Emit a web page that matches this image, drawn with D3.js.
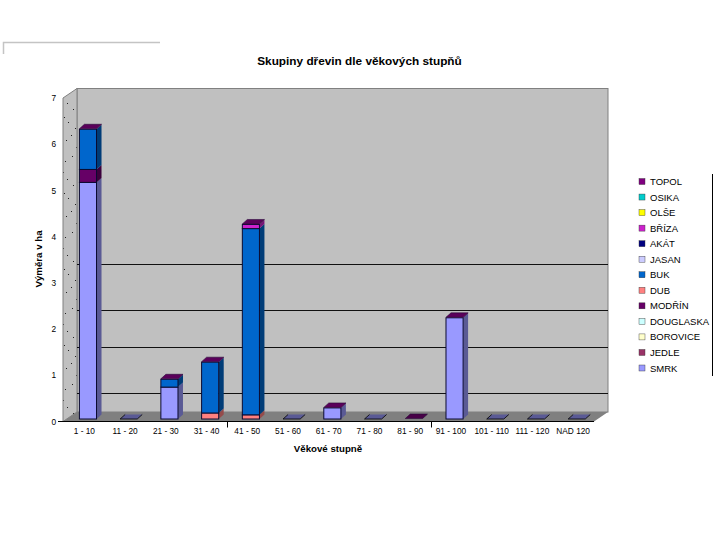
<!DOCTYPE html>
<html>
<head>
<meta charset="utf-8">
<title>Skupiny dřevin</title>
<script src="https://cdn.jsdelivr.net/npm/d3@7"></script>
<style>
    body { margin: 0; background: #fff; }
    svg { display: block; }
    text { font-family: "Liberation Sans", Arial, sans-serif; fill: #000; }
    .tick-label text { font-size: 8.3px; }
    .legend-label { font-size: 9.5px; }
    .title { font-size: 11.8px; font-weight: bold; }
    .axis-title { font-size: 9.7px; font-weight: bold; }
</style>
</head>
<body>
<div id="chart"></div>
<script>
// data (ha per age class)
var categories = ["1 - 10", "11 - 20", "21 - 30", "31 - 40", "41 - 50", "51 - 60", "61 - 70",
    "71 - 80", "81 - 90", "91 - 100", "101 - 110", "111 - 120", "NAD 120"];

// stacking order, bottom to top
var speciesNames = ["SMRK", "JEDLE", "BOROVICE", "DOUGLASKA", "MODŘÍN", "DUB", "BUK",
    "JASAN", "AKÁT", "BŘÍZA", "OLŠE", "OSIKA", "TOPOL"];
var speciesColors = ["#9999ff", "#993366", "#ffffcc", "#ccffff", "#660066", "#ff8080", "#0066cc",
    "#ccccff", "#000080", "#cc22cc", "#ffff00", "#00cccc", "#800080"];

var smrk =      [5.12, 0, 0.69, 0, 0, 0, 0.24, 0, 0, 2.19, 0, 0, 0];
var jedle =     [0, 0, 0, 0, 0, 0, 0, 0, 0, 0, 0, 0, 0];
var borovice =  [0, 0, 0, 0, 0, 0, 0, 0, 0, 0, 0, 0, 0];
var douglaska = [0, 0, 0, 0, 0, 0, 0, 0, 0, 0, 0, 0, 0];
var modrin =    [0.28, 0, 0, 0, 0, 0, 0, 0, 0.01, 0, 0, 0, 0];
var dub =       [0, 0, 0, 0.13, 0.09, 0, 0, 0, 0, 0, 0, 0, 0];
var buk =       [0.87, 0, 0.17, 1.10, 4.03, 0, 0, 0, 0, 0, 0, 0, 0];
var jasan =     [0, 0, 0, 0, 0, 0, 0, 0, 0, 0, 0, 0, 0];
var akat =      [0, 0, 0, 0, 0, 0, 0, 0, 0, 0, 0, 0, 0];
var briza =     [0, 0, 0, 0, 0.09, 0, 0, 0, 0, 0, 0, 0, 0];
var olse =      [0, 0, 0, 0, 0, 0, 0, 0, 0, 0, 0, 0, 0];
var osika =     [0, 0, 0, 0, 0, 0, 0, 0, 0, 0, 0, 0, 0];
var topol =     [0.01, 0, 0.01, 0.01, 0.01, 0, 0.01, 0, 0, 0.01, 0, 0, 0];

var seriesValues = [smrk, jedle, borovice, douglaska, modrin, dub, buk, jasan, akat, briza, olse, osika, topol];
var yTicks = [0, 1, 2, 3, 4, 5, 6, 7];
var wallLines = [0.41, 1.41, 2.21, 3.2];
// the original only marks these two category boundaries
var markedBoundaries = ["41 - 50", "91 - 100"];

var width = 720, height = 540;
var depthX = 14, depthY = 9.5;     // wall depth
var barDX = 5, barDY = 4.5;        // bar depth
var barShift = 3.6, baseLift = 2.5;

var svg = d3.select("#chart").append("svg")
    .attr("width", width)
    .attr("height", height);

var x = d3.scaleBand()
    .domain(categories)
    .range([64, 593.5])
    .paddingInner(0.58)
    .paddingOuter(0.29);

var y = d3.scaleLinear()
    .domain([0, 7])
    .range([421.5, 98]);

var xL = 63, xR = 594;

// sparse specks for the side wall
var defs = svg.append("defs");
var speck = defs.append("pattern")
    .attr("id", "speck")
    .attr("patternUnits", "userSpaceOnUse")
    .attr("width", 14)
    .attr("height", 76);
speck.append("rect").attr("width", 14).attr("height", 76).attr("fill", "#c0c0c0");
var speckX = [2, 9, 7, 11, 3, 8, 12, 5, 1, 10, 6];
var speckY = [4, 9, 20, 27, 33, 41, 46, 52, 59, 64, 71];
speck.selectAll("rect.dot")
    .data(speckX)
    .enter().append("rect")
    .attr("class", "dot")
    .attr("x", function(d) { return d; })
    .attr("y", function(d, i) { return speckY[i]; })
    .attr("width", 1)
    .attr("height", 1)
    .attr("fill", "#222");

// top left frame fragment
svg.append("path")
    .attr("d", "M3.5,54V42.5H160")
    .attr("fill", "none")
    .attr("stroke", "#c4c4c4")
    .attr("stroke-width", 1.5);

// walls and floor
svg.append("rect")
    .attr("x", xL + depthX)
    .attr("y", y(7) - depthY)
    .attr("width", xR - xL)
    .attr("height", y(0) - y(7))
    .attr("fill", "#c0c0c0")
    .attr("stroke", "#808080");

svg.append("polygon")
    .attr("points", [[xL, y(7)], [xL + depthX, y(7) - depthY], [xL + depthX, y(0) - depthY], [xL, y(0)]].join(" "))
    .attr("fill", "url(#speck)")
    .attr("stroke", "#808080");

svg.append("polygon")
    .attr("points", [[xL, y(0)], [xL + depthX, y(0) - depthY], [xR + depthX, y(0) - depthY], [xR, y(0)]].join(" "))
    .attr("fill", "#808080");

svg.selectAll(".wall-line")
    .data(wallLines)
    .enter().append("line")
    .attr("class", "wall-line")
    .attr("x1", xL + depthX)
    .attr("x2", xR + depthX)
    .attr("y1", function(d) { return Math.round(y(d) - depthY) + 0.5; })
    .attr("y2", function(d) { return Math.round(y(d) - depthY) + 0.5; })
    .attr("stroke", "#111");

// axes
var yAxis = d3.axisLeft(y).tickValues(yTicks).tickSize(0).tickPadding(7).tickFormat(d3.format("d"));
svg.append("g")
    .attr("class", "tick-label")
    .attr("transform", "translate(" + xL + ",0)")
    .call(yAxis)
    .call(function(g) { g.select(".domain").remove(); });

var xAxis = d3.axisBottom(x).tickSize(0).tickPadding(7);
svg.append("g")
    .attr("class", "tick-label")
    .attr("transform", "translate(0," + y(0) + ")")
    .call(xAxis)
    .call(function(g) { g.select(".domain").remove(); });

svg.append("line")
    .attr("x1", xL - 5)
    .attr("x2", xR)
    .attr("y1", y(0))
    .attr("y2", y(0))
    .attr("stroke", "#000");

svg.selectAll(".boundary")
    .data(markedBoundaries)
    .enter().append("line")
    .attr("class", "boundary")
    .attr("x1", function(d) { return Math.round(x(d) - x.step() * 0.29) + 0.5; })
    .attr("x2", function(d) { return Math.round(x(d) - x.step() * 0.29) + 0.5; })
    .attr("y1", y(0))
    .attr("y2", y(0) + 6)
    .attr("stroke", "#000");

// bars
var bars = svg.append("g").attr("class", "bars");

function shade(color) {
    return d3.rgb(color).darker(1.5).formatHex();
}

categories.forEach(function(cat, c) {
    var x0 = x(cat) + barShift;
    var x1 = x0 + x.bandwidth();
    var running = 0;
    var topColor = shade(speciesColors[0]);

    seriesValues.forEach(function(values, s) {
        var v = values[c];
        if (v === 0) return;
        var yA = y(running) - baseLift;
        var yB = y(running + v) - baseLift;
        var col = speciesColors[s];
        running += v;
        topColor = d3.rgb(col).darker(1).formatHex();

        bars.append("polygon")
            .attr("points", [[x1, yA], [x1 + barDX, yA - barDY], [x1 + barDX, yB - barDY], [x1, yB]].join(" "))
            .attr("fill", shade(col));

        if (yA - yB >= 1) {
            bars.append("rect")
                .attr("x", x0)
                .attr("y", yB)
                .attr("width", x1 - x0)
                .attr("height", yA - yB)
                .attr("fill", col)
                .attr("stroke", "#0a0a30");
        }
    });

    var yTop = y(running) - baseLift;
    bars.append("polygon")
        .attr("points", [[x0, yTop], [x0 + barDX, yTop - barDY], [x1 + barDX, yTop - barDY], [x1, yTop]].join(" "))
        .attr("fill", topColor)
        .attr("stroke", running === 0 ? "none" : "#2a0a3a")
        .attr("stroke-width", 0.6);

    if (running === 0) {
        bars.append("path")
            .attr("d", "M" + (x1 + barDX) + "," + (yTop - barDY) + "L" + x1 + "," + yTop + "H" + x0 + "L" + (x0 + barDX) + "," + (yTop - barDY))
            .attr("fill", "none")
            .attr("stroke", "#000")
            .attr("stroke-width", 0.8);
    }
});

// texts
svg.append("text")
    .attr("class", "title")
    .attr("x", 359.5)
    .attr("y", 65)
    .attr("text-anchor", "middle")
    .text("Skupiny dřevin dle věkových stupňů");

svg.append("text")
    .attr("class", "axis-title")
    .attr("x", 328)
    .attr("y", 452)
    .attr("text-anchor", "middle")
    .text("Věkové stupně");

svg.append("text")
    .attr("class", "axis-title")
    .attr("transform", "translate(42,259) rotate(-90)")
    .attr("text-anchor", "middle")
    .text("Výměra v ha");

// legend, top entry is the last series
var legendY = d3.scalePoint()
    .domain(speciesNames.slice().reverse())
    .range([181.5, 368]);

var legend = svg.append("g").attr("class", "legend");

legend.selectAll("rect")
    .data(speciesNames)
    .enter().append("rect")
    .attr("x", 639)
    .attr("y", function(d) { return legendY(d) - 3; })
    .attr("width", 6)
    .attr("height", 6)
    .attr("fill", function(d, i) { return speciesColors[i]; })
    .attr("stroke", "#333")
    .attr("stroke-width", 0.4);

legend.selectAll("text")
    .data(speciesNames)
    .enter().append("text")
    .attr("class", "legend-label")
    .attr("x", 650)
    .attr("y", function(d) { return legendY(d) + 3.5; })
    .text(function(d) { return d; });

svg.append("line")
    .attr("x1", 712.5)
    .attr("x2", 712.5)
    .attr("y1", 174)
    .attr("y2", 376)
    .attr("stroke", "#000");
</script>
</body>
</html>
